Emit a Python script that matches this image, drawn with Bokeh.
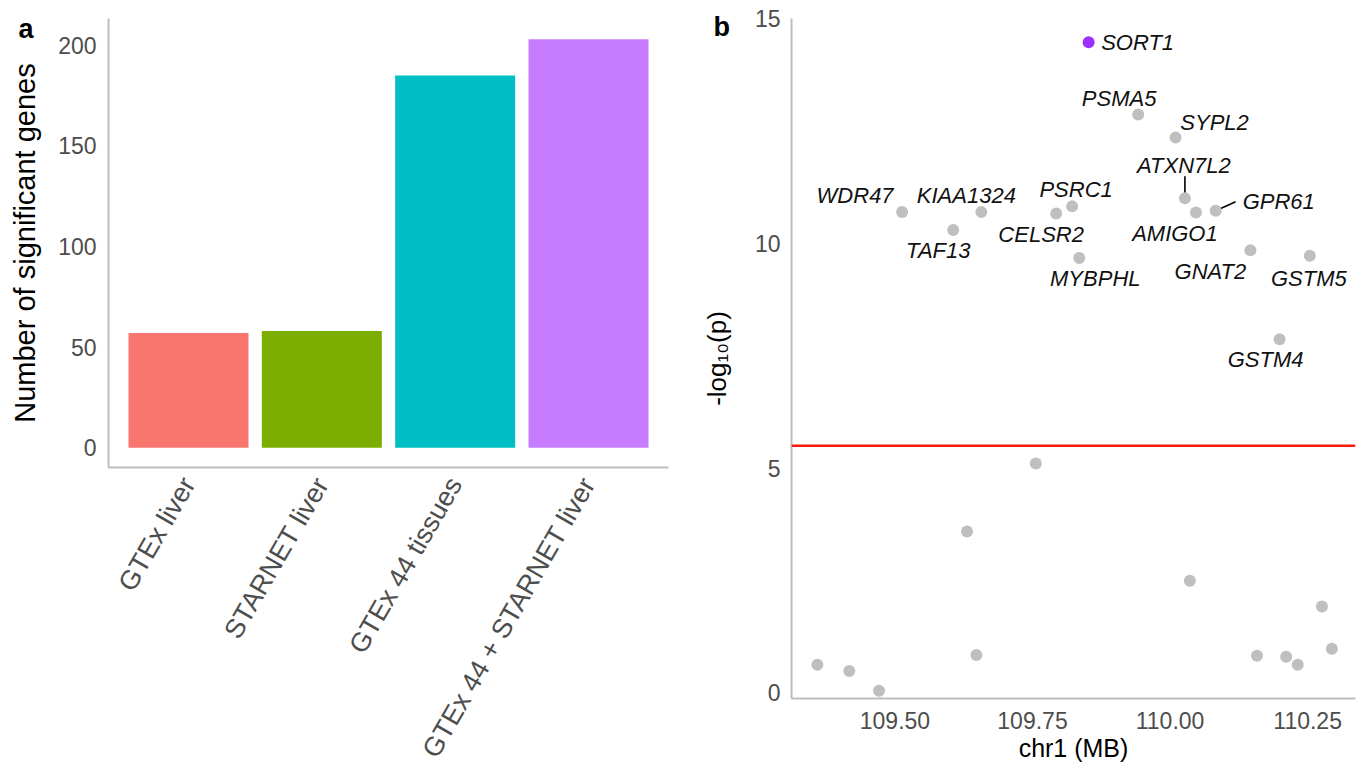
import math
from bokeh.plotting import figure
from bokeh.layouts import row
from bokeh.models import (Range1d, FixedTicker, Span, ColumnDataSource, NumeralTickFormatter, Title)
from bokeh.core.properties import value
from bokeh.embed import file_html
from bokeh.resources import INLINE

# ---------------- data ----------------
categories = ["GTEx liver", "STARNET liver", "GTEx 44 tissues", "GTEx 44 + STARNET liver"]
gene_counts = [57, 58, 185, 203]
bar_colors = ["#F8766D", "#7CAE00", "#00BFC4", "#C77CFF"]
count_ticks = [0, 50, 100, 150, 200]

genes = ["SORT1", "PSMA5", "SYPL2", "ATXN7L2", "GPR61", "AMIGO1", "WDR47", "KIAA1324",
         "TAF13", "CELSR2", "PSRC1", "MYBPHL", "GNAT2", "GSTM5", "GSTM4"]
gene_pos = [109.852, 109.942, 110.010, 110.027, 110.083, 110.047, 109.513, 109.657,
            109.606, 109.793, 109.822, 109.835, 110.146, 110.254, 110.199]
gene_logp = [14.48, 12.87, 12.36, 11.01, 10.73, 10.69, 10.70, 10.70,
             10.30, 10.67, 10.83, 9.68, 9.85, 9.73, 7.87]
lead_gene = "SORT1"

other_pos = [109.359, 109.417, 109.471, 109.631, 109.648, 109.756, 110.036,
             110.158, 110.211, 110.232, 110.276, 110.294]
other_logp = [0.62, 0.48, 0.04, 3.59, 0.84, 5.10, 2.49, 0.82, 0.80, 0.62, 1.92, 0.98]

threshold = 5.5
pos_ticks = [109.50, 109.75, 110.00, 110.25]
logp_ticks = [0, 5, 10, 15]

# ---------------- style ----------------
FONT = "Liberation Sans"
AXIS_GREY = "#bdbdbd"
TICK_GREY = "#4d4d4d"
DOT_GREY = "#bfbfbf"
LEAD_COLOR = "#9B30FF"

# label offsets (screen px) relative to each gene point: (dx, dy), dy positive = down
label_offsets = {
    "SORT1": (49, 0), "PSMA5": (-19, -16), "SYPL2": (39, -15), "ATXN7L2": (-1, -33),
    "GPR61": (63, -9), "AMIGO1": (-21, 21), "WDR47": (-47, -17), "KIAA1324": (-15, -17),
    "TAF13": (-15, 20), "CELSR2": (-15, 21), "PSRC1": (4, -17), "MYBPHL": (16, 21),
    "GNAT2": (-40, 21), "GSTM5": (-1, 23), "GSTM4": (-14, 20),
}
# leader lines (screen px offsets of the far end, from the point)
leaders = {"ATXN7L2": (0, -22), "GPR61": (20, -9)}


def style_axes(p):
    p.xgrid.visible = False
    p.ygrid.visible = False
    p.outline_line_color = None
    p.background_fill_color = "white"
    p.border_fill_color = "white"
    p.frame_align = False
    for ax in p.axis:
        ax.axis_line_color = AXIS_GREY
        ax.axis_line_width = 2
        ax.major_tick_line_color = None
        ax.minor_tick_line_color = None
        ax.major_tick_out = 0
        ax.major_tick_in = 0
        ax.major_label_text_font = FONT
        ax.major_label_text_color = TICK_GREY
        ax.axis_label_text_font = FONT
        ax.axis_label_text_font_style = "normal"
        ax.axis_label_text_color = "black"


def panel_letter(letter, offset, standoff):
    # panel letter as a compact title (blank first line), shifted left of the frame
    return Title(text=" \n" + letter, align="left", vertical_align="bottom", offset=offset,
                 standoff=standoff, text_font=FONT, text_font_style="bold",
                 text_font_size="27px", text_color="black")


# ---------------- panel a ----------------
W1, H1 = 698, 773
T1, B1, L1, R1 = 18, 305, 108, 30
xs = list(range(1, len(categories) + 1))
xr1 = Range1d(0.4, len(categories) + 0.6)
yr1 = Range1d(-9.8, 213.3)
p1 = figure(width=W1, height=H1, output_backend="svg", toolbar_location=None,
            x_range=xr1, y_range=yr1, title=panel_letter("a", 18 - L1, -50),
            min_border_left=L1, min_border_right=R1, min_border_top=T1, min_border_bottom=B1)
p1.vbar(x=xs, top=gene_counts, bottom=0, width=0.9, fill_color=bar_colors, line_color=None)
style_axes(p1)
p1.xaxis.ticker = FixedTicker(ticks=xs)
p1.xaxis.major_label_overrides = {x: c for x, c in zip(xs, categories)}
p1.xaxis.major_label_orientation = math.pi / 3
p1.xaxis.major_label_text_font_size = "27px"
p1.xaxis.major_label_standoff = 12
p1.yaxis.ticker = FixedTicker(ticks=count_ticks)
p1.yaxis.major_label_text_font_size = "23px"
p1.yaxis.major_label_standoff = 12
p1.yaxis.axis_label = "Number of significant genes"
p1.yaxis.axis_label_text_font_size = "29px"
p1.yaxis.axis_label_standoff = 14

# ---------------- panel b ----------------
X2 = W1
W2, H2 = 1361 - W1, 773
T2, B2, L2, R2 = 18, 75, 786 - X2, 1361 - 1355
xr2 = Range1d(109.312, 110.337)
yr2 = Range1d(-0.13, 15.01)
p2 = figure(width=W2, height=H2, output_backend="svg", toolbar_location=None,
            x_range=xr2, y_range=yr2, title=panel_letter("b", 10 - L2, -47),
            min_border_left=L2, min_border_right=R2, min_border_top=T2, min_border_bottom=B2)
style_axes(p2)
p2.add_layout(Span(location=threshold, dimension="width", line_color="#FF1A0A", line_width=2.5))

# pixel scale factors of the frame
fw2, fh2 = W2 - L2 - R2, H2 - T2 - B2
px_x = fw2 / (xr2.end - xr2.start)
px_y = fh2 / (yr2.end - yr2.start)

# leader lines
lx0, ly0, lx1, ly1 = [], [], [], []
for g, x, y in zip(genes, gene_pos, gene_logp):
    if g in leaders:
        dx, dy = leaders[g]
        lx0.append(x); ly0.append(y)
        lx1.append(x + dx / px_x); ly1.append(y - dy / px_y)
p2.segment(x0=lx0, y0=ly0, x1=lx1, y1=ly1, line_color="black", line_width=1.6)

p2.scatter(x=other_pos, y=other_logp, size=12, fill_color=DOT_GREY, line_color=None)
gcol = [LEAD_COLOR if g == lead_gene else DOT_GREY for g in genes]
p2.scatter(x=gene_pos, y=gene_logp, size=12, fill_color=gcol, line_color=None)

src = ColumnDataSource(dict(
    x=gene_pos, y=gene_logp, text=genes,
    dx=[label_offsets[g][0] for g in genes],
    dy=[label_offsets[g][1] for g in genes],
))
p2.text(x="x", y="y", text="text", x_offset="dx", y_offset="dy", source=src,
        text_font=value(FONT), text_font_style="italic", text_font_size="22px",
        text_color="#111111", text_align="center", text_baseline="middle")

p2.xaxis.ticker = FixedTicker(ticks=pos_ticks)
p2.xaxis.formatter = NumeralTickFormatter(format="0.00")
p2.xaxis.major_label_text_font_size = "23px"
p2.xaxis.major_label_standoff = 13
p2.xaxis.axis_label = "chr1 (MB)"
p2.xaxis.axis_label_text_font_size = "25px"
p2.xaxis.axis_label_standoff = 2
p2.yaxis.ticker = FixedTicker(ticks=logp_ticks)
p2.yaxis.major_label_text_font_size = "23px"
p2.yaxis.major_label_standoff = 11
p2.yaxis.axis_label = "-log\u2081\u2080(p)"
p2.yaxis.axis_label_text_font_size = "26px"
p2.yaxis.axis_label_standoff = 20

layout = row(p1, p2, spacing=0)
open("out.html", "w").write(file_html(layout, INLINE))
